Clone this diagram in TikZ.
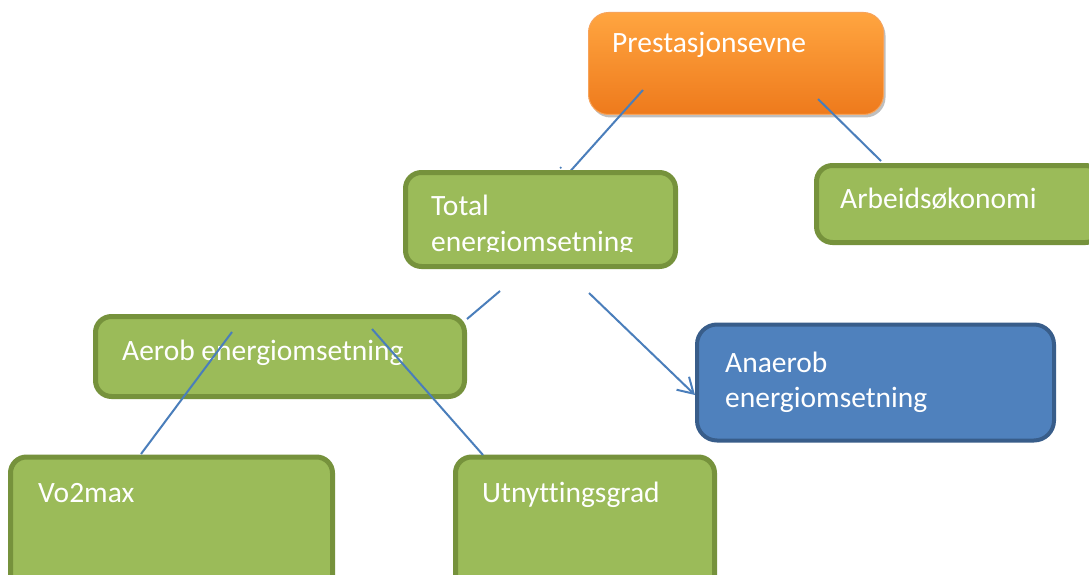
\documentclass[tikz,border=0pt]{standalone}
\usepackage{fontspec}
\setmainfont{Carlito}[Ligatures=NoCommon]
\usetikzlibrary{arrows.meta,shadows}
\definecolor{gfill}{HTML}{9BBB59}
\definecolor{gline}{HTML}{76923C}
\definecolor{bfill}{HTML}{4F81BD}
\definecolor{bline}{HTML}{385D8A}
\definecolor{otop}{HTML}{FFA540}
\definecolor{obot}{HTML}{EE7A1C}
\definecolor{oline}{HTML}{F7A35A}
\definecolor{conn}{HTML}{4A7EBB}
\tikzset{
  gbox/.style={draw=gline, fill=gfill, line width=5pt, rounded corners=16pt, inner sep=0pt},
  bbox/.style={draw=bline, fill=bfill, line width=4pt, rounded corners=20pt, inner sep=0pt},
  obox/.style={draw=oline, line width=1pt, top color=otop, bottom color=obot, rounded corners=20pt, inner sep=0pt,
     drop shadow={shadow xshift=2pt, shadow yshift=-3pt, fill=black!50, opacity=0.5}},
  txt/.style={anchor=base west, inner sep=0pt, text=white, font=\fontsize{29.5}{36}\selectfont},
  conline/.style={draw=conn, line width=2pt},
}
\begin{document}
\begin{tikzpicture}[x=1pt,y=-1pt]
\clip (0,0) rectangle (1089,575);
\fill[white] (0,0) rectangle (1089,575);
% connector under the Total box
\coordinate (p1) at (643,90);
\coordinate (q1) at (566,176);
% boxes
\node[obox, minimum width=295pt, minimum height=102pt] (pre) at (736,63.5) {};
\draw[conline] (p1) -- (q1);
\node[gbox, minimum width=270pt, minimum height=94pt] (tot) at (540.5,219.5) {};
\node[gbox, minimum width=285pt, minimum height=77pt] (arb) at (959,204) {};
\node[gbox, minimum width=369pt, minimum height=80pt] (aer) at (280,356.5) {};
\node[bbox, minimum width=357pt, minimum height=116pt] (ana) at (875.5,382.5) {};
\node[gbox, minimum width=322pt, minimum height=150pt] (vo2) at (171.5,532) {};
\node[gbox, minimum width=259pt, minimum height=150pt] (utn) at (585,532) {};
% texts
\node[txt] (tpre) at (612,53) {Prestasjonsevne};
\node[txt] (ttot1) at (431,215) {Total};
\begin{scope}
\clip (405,225) rectangle (676,251);
\node[txt] (ttot2) at (431,251.5) {energiomsetning};
\end{scope}
\node[txt] (tarb) at (840,208) {Arbeidsøkonomi};
\node[txt] (taer) at (122,360) {Aerob energiomsetning};
\node[txt] (tana1) at (725,372) {Anaerob};
\node[txt] (tana2) at (725,407) {energiomsetning};
\node[txt] (tvo2) at (38,502) {Vo2max};
\node[txt] (tutn) at (482,502) {Utnyttingsgrad};
% connectors
\coordinate (p2) at (818,99);
\coordinate (q2) at (881,161);
\coordinate (p3) at (500,291);
\coordinate (q3) at (467,319);
\coordinate (p4) at (589,293);
\coordinate (q4) at (695,395);
\coordinate (p5) at (232,332);
\coordinate (q5) at (141,454);
\coordinate (p6) at (372,329);
\coordinate (q6) at (483,455);
\draw[conline] (p2) -- (q2);
\draw[conline] (p3) -- (q3);
\draw[conline, -{Straight Barb[length=15pt,width=18pt,line width=2pt]}] (p4) -- (q4);
\draw[conline] (p5) -- (q5);
\draw[conline] (p6) -- (q6);
\fill[conn] (560.7,167.7) circle (1.2pt);
\end{tikzpicture}
\end{document}
